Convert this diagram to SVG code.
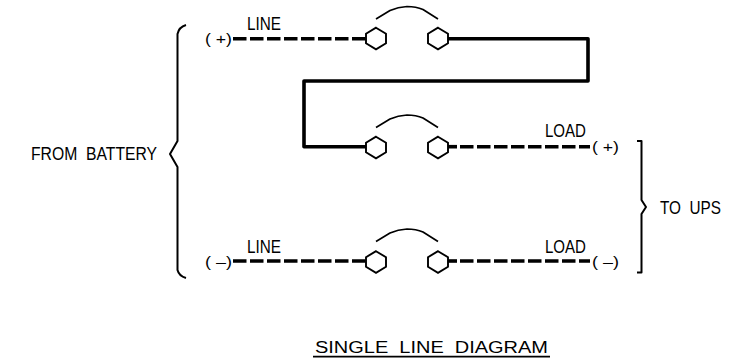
<svg xmlns="http://www.w3.org/2000/svg" width="738" height="363" viewBox="0 0 738 363">
<style>
.t{font-family:"Liberation Sans",Arial,sans-serif;font-size:18px;fill:#000;white-space:pre}
.p{font-size:15px}
.th{fill:none;stroke:#000;stroke-width:1.7;stroke-linejoin:round}
.b{stroke-width:2}
.hex{fill:#fff;stroke:#000;stroke-width:1.9}
.d{fill:none;stroke:#000;stroke-width:3.4;stroke-dasharray:13.5 3.5}
.s{fill:none;stroke:#000;stroke-width:3.6;stroke-linejoin:round;stroke-linecap:round}
.c{fill:none;stroke:#000;stroke-width:3.6}
</style>
<defs>
<polygon id="h" class="hex" points="0,-10.8 10,-4.8 10,4.8 0,10.8 -10,4.8 -10,-4.8"/>
<path id="a" class="th" d="M0,13 L14,4.5 Q22,1 31,0.5 Q40,0.5 47,3.5 L62,13"/>
</defs>
<g id="connectors">
<path class="d" d="M233,38.7H366"/>
<path class="s" d="M448,38.7H588V81H304V146.7H366"/>
<path class="c" d="M448,146.7H457"/>
<path class="d" d="M460,146.7H590"/>
<path class="d" d="M233,261H366"/>
<path class="c" d="M448,261H457"/>
<path class="d" d="M460,261H590"/>
</g>
<g id="switch-top"><use href="#a" x="376" y="6"/><use href="#h" x="376" y="38.5"/><use href="#h" x="438" y="38.5"/></g>
<g id="switch-mid"><use href="#a" x="376" y="114.5"/><use href="#h" x="376" y="147.5"/><use href="#h" x="438" y="147.5"/></g>
<g id="switch-bot"><use href="#a" x="376" y="228.5"/><use href="#h" x="376" y="262"/><use href="#h" x="438" y="262"/></g>
<g id="brace-left"><path class="th b" d="M186,25 Q179,27 177.5,34V141L170,154L177.5,167V270Q179,276 186,278"/></g>
<g id="brace-right"><path class="th b" d="M637,141H641.5V200L646,207L641.5,214V272.5H637"/></g>
<g id="labels">
<text class="t p" x="205" y="44" textLength="27" lengthAdjust="spacingAndGlyphs">( +)</text>
<text class="t" x="247" y="30" textLength="34" lengthAdjust="spacingAndGlyphs">LINE</text>
<text class="t" x="545" y="137" textLength="41" lengthAdjust="spacingAndGlyphs">LOAD</text>
<text class="t p" x="592" y="152" textLength="27" lengthAdjust="spacingAndGlyphs">( +)</text>
<text class="t p" x="205" y="267" textLength="27" lengthAdjust="spacingAndGlyphs">( –)</text>
<text class="t" x="247" y="253" textLength="34" lengthAdjust="spacingAndGlyphs">LINE</text>
<text class="t" x="545" y="253" textLength="41" lengthAdjust="spacingAndGlyphs">LOAD</text>
<text class="t p" x="592" y="267" textLength="27" lengthAdjust="spacingAndGlyphs">( –)</text>
<text class="t" x="31" y="160" textLength="126" lengthAdjust="spacingAndGlyphs">FROM  BATTERY</text>
<text class="t" x="660" y="214" textLength="61" lengthAdjust="spacingAndGlyphs">TO  UPS</text>
<text class="t" x="315" y="353" textLength="233" lengthAdjust="spacingAndGlyphs" style="font-size:16px">SINGLE  LINE  DIAGRAM</text>
<path d="M313,356.7H550" fill="none" stroke="#000" stroke-width="1.7"/>
</g>
</svg>
